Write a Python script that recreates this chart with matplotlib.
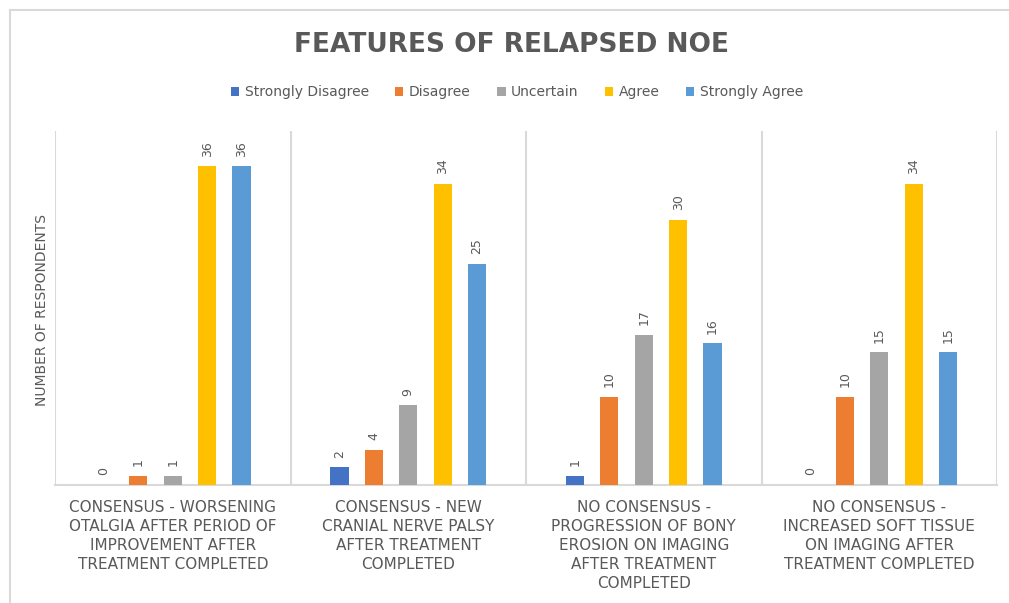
import numpy as np
import matplotlib
matplotlib.use("Agg")
import matplotlib.pyplot as plt
from matplotlib.lines import Line2D

categories = [
    "CONSENSUS - WORSENING\nOTALGIA AFTER PERIOD OF\nIMPROVEMENT AFTER\nTREATMENT COMPLETED",
    "CONSENSUS - NEW\nCRANIAL NERVE PALSY\nAFTER TREATMENT\nCOMPLETED",
    "NO CONSENSUS -\nPROGRESSION OF BONY\nEROSION ON IMAGING\nAFTER TREATMENT\nCOMPLETED",
    "NO CONSENSUS -\nINCREASED SOFT TISSUE\nON IMAGING AFTER\nTREATMENT COMPLETED",
]
series_names = ["Strongly Disagree", "Disagree", "Uncertain", "Agree", "Strongly Agree"]
strongly_disagree = [0, 2, 1, 0]
disagree = [1, 4, 10, 10]
uncertain = [1, 9, 17, 15]
agree = [36, 34, 30, 34]
strongly_agree = [36, 25, 16, 15]

colors = ["#4472C4", "#ED7D31", "#A5A5A5", "#FFC000", "#5B9BD5"]
text_gray = "#595959"
line_gray = "#D9D9D9"

fig = plt.figure(figsize=(10.09, 6.03), dpi=100)
ax = fig.add_axes([55 / 1009, 1 - 485 / 603, (997 - 55) / 1009, (485 - 131) / 603])

# outer chart border (top and left only visible)
fig.add_artist(Line2D([10 / 1009, 1.0], [1 - 10 / 603, 1 - 10 / 603], color=line_gray, lw=1.5))
fig.add_artist(Line2D([10 / 1009, 10 / 1009], [0, 1 - 10 / 603], color=line_gray, lw=1.5))

x = np.arange(len(categories))
step = 0.146
width = 0.077
all_series = [strongly_disagree, disagree, uncertain, agree, strongly_agree]
for i, (name, vals) in enumerate(zip(series_names, all_series)):
    pos = x + (i - 2) * step
    ax.bar(pos, vals, width=width, color=colors[i], label=name, zorder=3)
    for p, v in zip(pos, vals):
        ax.annotate(str(v), (p, v), xytext=(0, 7), textcoords="offset points",
                    rotation=90, ha="center", va="bottom", fontsize=9, color=text_gray)

ax.set_xlim(-0.5, len(categories) - 0.5)
ax.set_ylim(0, 40)
ax.set_yticks([])
for b in np.arange(-0.5, len(categories), 1.0):
    ax.axvline(b, color=line_gray, lw=1.5, zorder=1)
for s in ["top", "right", "left"]:
    ax.spines[s].set_visible(False)
ax.spines["bottom"].set_color(line_gray)
ax.spines["bottom"].set_linewidth(1.5)

ax.set_xticks(x)
ax.set_xticklabels(categories, fontsize=11, color=text_gray, linespacing=1.32)
ax.tick_params(axis="x", length=0, pad=11)

fig.text(42 / 1009, 1 - 310 / 603, "NUMBER OF RESPONDENTS", rotation=90,
         ha="center", va="center", fontsize=10, color=text_gray)

fig.text(512 / 1009, 1 - 45 / 603, "FEATURES OF RELAPSED NOE", ha="center", va="center",
         fontsize=19, fontweight="bold", color=text_gray)

ax.legend(loc="center", bbox_to_anchor=(517 / 1009, 1 - 92 / 603), bbox_transform=fig.transFigure,
          ncol=5, frameon=False, fontsize=10, labelcolor=text_gray, handlelength=0.6,
          handleheight=0.6, handletextpad=0.4, columnspacing=1.9)

fig.savefig("out.png", dpi=100)
